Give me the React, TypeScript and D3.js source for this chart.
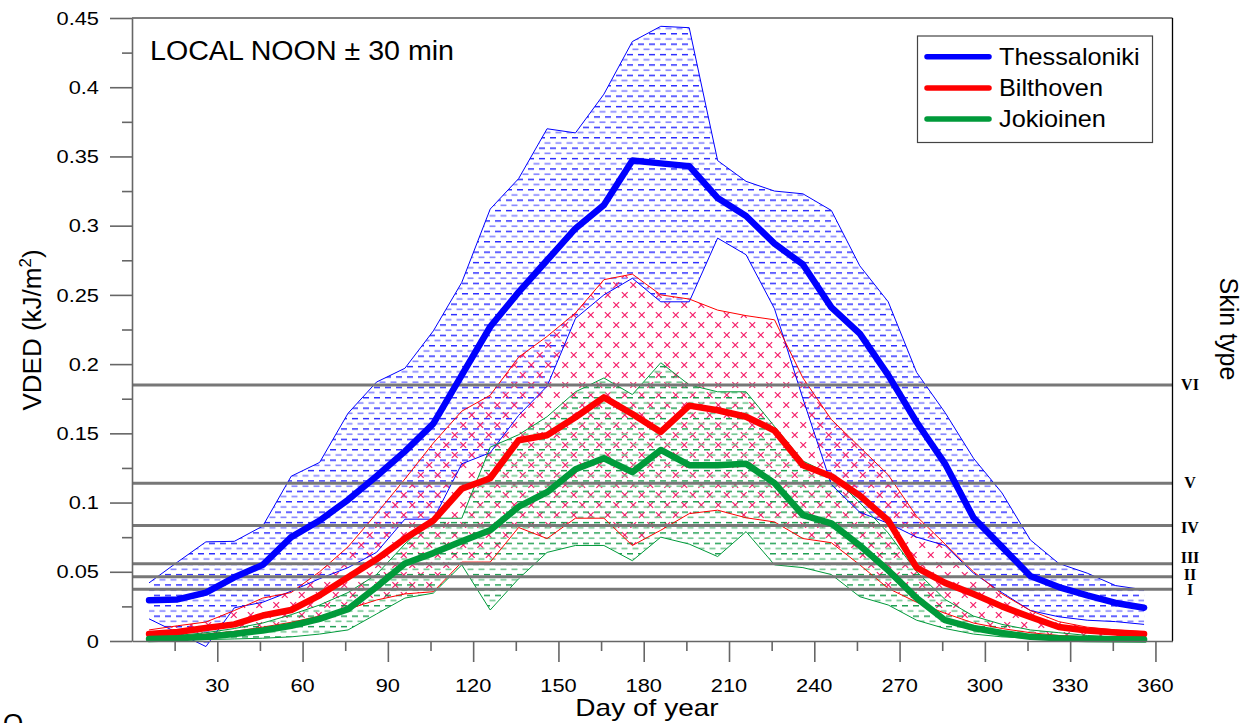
import React, { useEffect, useRef } from 'react';
import * as d3 from 'd3';

// 10-day means, centre day of each period
const days = [6, 16, 26, 36, 46, 56, 66, 76, 86, 96, 106, 116, 126, 136, 146, 156, 166, 176,
    186, 196, 206, 216, 226, 236, 246, 256, 266, 276, 286, 296, 306, 316, 326, 336, 346, 356];

const thessMean = [0.0295, 0.030, 0.035, 0.046, 0.055, 0.075, 0.087, 0.102, 0.119, 0.137, 0.157, 0.192,
    0.227, 0.252, 0.275, 0.298, 0.315, 0.347, 0.345, 0.343, 0.320, 0.307, 0.287, 0.272,
    0.241, 0.222, 0.192, 0.158, 0.128, 0.089, 0.068, 0.047, 0.039, 0.033, 0.0275, 0.024];
const thessHigh = [0.042, 0.057, 0.0716, 0.072, 0.083, 0.119, 0.129, 0.1645, 0.187, 0.197, 0.224, 0.259,
    0.312, 0.334, 0.370, 0.367, 0.395, 0.433, 0.444, 0.443, 0.347, 0.332, 0.325, 0.323,
    0.311, 0.271, 0.245, 0.194, 0.165, 0.132, 0.107, 0.073, 0.056, 0.049, 0.040, 0.037];
const thessLow = [0.016, 0.006, -0.004, 0.024, 0.028, 0.036, 0.045, 0.053, 0.064, 0.088, 0.088, 0.128,
    0.136, 0.163, 0.184, 0.233, 0.250, 0.262, 0.245, 0.245, 0.291, 0.279, 0.240, 0.175,
    0.113, 0.093, 0.085, 0.075, 0.069, 0.049, 0.035, 0.022, 0.0175, 0.015, 0.014, 0.012];

const biltMean = [0.005, 0.0065, 0.0094, 0.012, 0.0184, 0.0224, 0.033, 0.046, 0.059, 0.074, 0.087, 0.110,
    0.1176, 0.145, 0.1486, 0.1616, 0.176, 0.164, 0.151, 0.170, 0.1667, 0.162, 0.152, 0.127,
    0.119, 0.105, 0.087, 0.053, 0.042, 0.034, 0.025, 0.0173, 0.0101, 0.0076, 0.0061, 0.005];
const biltHigh = [0.008, 0.011, 0.0137, 0.022, 0.031, 0.035, 0.050, 0.068, 0.092, 0.117, 0.143, 0.166,
    0.1775, 0.205, 0.220, 0.237, 0.261, 0.265, 0.250, 0.247, 0.239, 0.235, 0.232, 0.190,
    0.160, 0.140, 0.120, 0.090, 0.070, 0.050, 0.034, 0.022, 0.014, 0.010, 0.008, 0.0067];
const biltLow = [0.003, 0.0035, 0.005, 0.007, 0.010, 0.0135, 0.018, 0.023, 0.0296, 0.034, 0.0356, 0.057,
    0.057, 0.082, 0.074, 0.0887, 0.0887, 0.069, 0.080, 0.092, 0.0945, 0.089, 0.086, 0.074,
    0.071, 0.055, 0.038, 0.028, 0.020, 0.013, 0.009, 0.006, 0.004, 0.003, 0.0025, 0.002];

const jokMean = [0.0015, 0.002, 0.003, 0.005, 0.0076, 0.011, 0.016, 0.023, 0.039, 0.056, 0.0635, 0.072,
    0.080, 0.097, 0.1075, 0.124, 0.132, 0.122, 0.138, 0.127, 0.127, 0.128, 0.114, 0.091,
    0.085, 0.069, 0.051, 0.031, 0.015, 0.0094, 0.0058, 0.003, 0.002, 0.0015, 0.0012, 0.001];
const jokHigh = [0.003, 0.004, 0.006, 0.009, 0.013, 0.019, 0.026, 0.035, 0.048, 0.070, 0.0887, 0.0887,
    0.140, 0.149, 0.162, 0.180, 0.190, 0.178, 0.201, 0.185, 0.180, 0.180, 0.155, 0.130,
    0.120, 0.100, 0.078, 0.050, 0.030, 0.018, 0.012, 0.008, 0.006, 0.004, 0.003, 0.003];
const jokLow = [0.0005, 0.0008, 0.001, 0.0015, 0.002, 0.003, 0.005, 0.008, 0.0195, 0.031, 0.0346, 0.055,
    0.0224, 0.045, 0.064, 0.069, 0.069, 0.058, 0.075, 0.070, 0.061, 0.079, 0.055, 0.053,
    0.048, 0.032, 0.026, 0.015, 0.009, 0.005, 0.003, 0.002, 0.001, 0.0008, 0.0005, 0.0005];

const stations = ['Thessaloniki', 'Bilthoven', 'Jokioinen'];
const skinTypes = ['I', 'II', 'III', 'IV', 'V', 'VI'];
const skinDoses = [0.0373, 0.0464, 0.0558, 0.0835, 0.114, 0.185];

const yMajor = [0, 0.05, 0.1, 0.15, 0.2, 0.25, 0.3, 0.35, 0.4, 0.45];
const yMinor = [0.025, 0.075, 0.125, 0.175, 0.225, 0.275, 0.325, 0.375, 0.425];
const xMajor = [30, 60, 90, 120, 150, 180, 210, 240, 270, 300, 330, 360];
const xMinor = [15, 45, 75, 105, 135, 165, 195, 225, 255, 285, 315, 345];

const FONT = 'Arial, "Liberation Sans", sans-serif';

export default function App() {
    const ref = useRef<SVGSVGElement>(null);

    useEffect(() => {
        const svg = d3.select(ref.current);
        svg.selectAll('*').remove();

        const left = 132, right = 1172.5, top = 18, bottom = 641;
        const x = d3.scaleLinear().domain([0, 366]).range([left, right]);
        const y = d3.scaleLinear().domain([0, 0.45]).range([bottom, top]);

        const defs = svg.append('defs');
        const dashPattern = (id: string, dark: string, light: string) => {
            const p = defs.append('pattern').attr('id', id)
                .attr('patternUnits', 'userSpaceOnUse').attr('width', 11).attr('height', 10.4);
            p.append('line').attr('x1', 0).attr('x2', 6).attr('y1', 2.6).attr('y2', 2.6)
                .attr('stroke', dark).attr('stroke-width', 1.3);
            p.append('line').attr('x1', 5.5).attr('x2', 11).attr('y1', 7.8).attr('y2', 7.8)
                .attr('stroke', light).attr('stroke-width', 1.6);
            p.append('line').attr('x1', 0).attr('x2', 0.5).attr('y1', 7.8).attr('y2', 7.8)
                .attr('stroke', light).attr('stroke-width', 1.6);
        };
        dashPattern('blueDash', '#1010ff', '#8282ff');
        dashPattern('greenDash', '#00913a', '#70c68e');

        const cross = defs.append('pattern').attr('id', 'redCross')
            .attr('patternUnits', 'userSpaceOnUse').attr('width', 17).attr('height', 20);
        [[4.25, 5], [12.75, 15]].forEach(([cx, cy]) => {
            const a = 2.9;
            cross.append('path')
                .attr('d', `M${cx - a},${cy - a}L${cx + a},${cy + a}M${cx - a},${cy + a}L${cx + a},${cy - a}`)
                .attr('stroke', '#f5226c').attr('stroke-width', 1.25).attr('fill', 'none');
        });

        const series = [
            { mean: thessMean, high: thessHigh, low: thessLow, color: '#0000ff', fill: 'url(#blueDash)' },
            { mean: biltMean, high: biltHigh, low: biltLow, color: '#ff0000', fill: 'url(#redCross)' },
            { mean: jokMean, high: jokHigh, low: jokLow, color: '#009a3a', fill: 'url(#greenDash)' },
        ];

        const band = (lo: number[], hi: number[]) => d3.area<number>()
            .x((_, i) => x(days[i]))
            .y0((_, i) => y(lo[i]))
            .y1((_, i) => y(hi[i]))(days);
        const line = (vals: number[]) => d3.line<number>()
            .x((_, i) => x(days[i]))
            .y((_, i) => y(vals[i]))(days);

        series.forEach((s) => {
            svg.append('path').attr('d', band(s.low, s.high)).attr('fill', s.fill);
        });
        series.forEach((s) => {
            [s.high, s.low].forEach((v) => {
                svg.append('path').attr('d', line(v)).attr('fill', 'none')
                    .attr('stroke', s.color).attr('stroke-width', 1);
            });
        });

        // skin type thresholds
        skinDoses.forEach((d) => {
            svg.append('line').attr('x1', left).attr('x2', right)
                .attr('y1', y(d)).attr('y2', y(d))
                .attr('stroke', '#777').attr('stroke-width', 3);
        });

        series.forEach((s) => {
            svg.append('path').attr('d', line(s.mean)).attr('fill', 'none')
                .attr('stroke', s.color).attr('stroke-width', 6.5)
                .attr('stroke-linejoin', 'round').attr('stroke-linecap', 'round');
        });

        // frame
        svg.append('line').attr('x1', left).attr('x2', right).attr('y1', top).attr('y2', top)
            .attr('stroke', '#555').attr('stroke-width', 1.3);
        svg.append('line').attr('x1', right).attr('x2', right).attr('y1', top).attr('y2', bottom)
            .attr('stroke', '#000').attr('stroke-width', 1.3);

        // axes
        const gy = svg.append('g').attr('transform', `translate(${left},0)`).attr('color', '#666');
        gy.call(d3.axisLeft(y).tickValues(yMajor).tickSize(22).tickSizeOuter(0).tickFormat(() => ''));
        gy.append('g').call(d3.axisLeft(y).tickValues(yMinor).tickSize(10).tickFormat(() => ''))
            .select('.domain').remove();
        gy.selectAll('line, path').attr('stroke-width', 1.6);

        const gx = svg.append('g').attr('transform', `translate(0,${bottom})`).attr('color', '#666');
        gx.call(d3.axisBottom(x).tickValues(xMajor).tickSize(21).tickSizeOuter(0).tickFormat(() => ''));
        gx.append('g').call(d3.axisBottom(x).tickValues(xMinor).tickSize(10).tickFormat(() => ''))
            .select('.domain').remove();
        gx.selectAll('line, path').attr('stroke-width', 1.6);

        const text = (tx: number, ty: number, s: string, size: number, sx = 1, anchor = 'start') =>
            svg.append('text')
                .attr('transform', `translate(${tx},${ty}) scale(${sx},1)`)
                .attr('font-family', FONT).attr('font-size', size)
                .attr('text-anchor', anchor).attr('fill', '#000')
                .text(s);

        yMajor.forEach((v) => text(99, y(v) + 6.7, String(+v.toFixed(2)), 18.5, 1.18, 'end'));
        xMajor.forEach((d) => text(x(d), 692, String(d), 18.5, 1.18, 'middle'));

        text(150, 60, 'LOCAL NOON \u00b1 30 min', 27, 1.06);
        text(647, 716, 'Day of year', 23, 1.22, 'middle');
        text(3, 732, 'O', 26);

        const yl = svg.append('text')
            .attr('transform', 'translate(41,330) rotate(-90)')
            .attr('font-family', FONT).attr('font-size', 26).attr('text-anchor', 'middle');
        yl.append('tspan').text('VDED (kJ/m');
        yl.append('tspan').attr('font-size', 17).attr('dy', -10).text('2');
        yl.append('tspan').attr('dy', 10).text(')');

        svg.append('text')
            .attr('transform', 'translate(1220,329) rotate(90)')
            .attr('font-family', FONT).attr('font-size', 25).attr('text-anchor', 'middle')
            .text('Skin type');

        const skinLabelY = [589.5, 574, 557.5, 527, 482, 384];
        skinTypes.forEach((s, i) => {
            svg.append('text').attr('x', 1190).attr('y', skinLabelY[i] + 5.5)
                .attr('font-family', '"Times New Roman", "Liberation Serif", serif')
                .attr('font-weight', 'bold').attr('font-size', 16)
                .attr('text-anchor', 'middle').text(s);
        });

        // legend
        const lg = svg.append('g');
        lg.append('rect').attr('x', 917.5).attr('y', 36).attr('width', 235).attr('height', 106.5)
            .attr('fill', '#fff').attr('stroke', '#444').attr('stroke-width', 1.2);
        stations.forEach((name, i) => {
            const ly = 56.7 + i * 31.2;
            lg.append('line').attr('x1', 927).attr('x2', 989).attr('y1', ly).attr('y2', ly)
                .attr('stroke', series[i].color).attr('stroke-width', 5.5).attr('stroke-linecap', 'round');
            lg.append('text')
                .attr('transform', `translate(999,${ly + 8.3}) scale(1.1,1)`)
                .attr('font-family', FONT).attr('font-size', 23).text(name);
        });
    }, []);

    return (
        <svg ref={ref} width={1246} height={723}
            style={{ position: 'absolute', left: 0, top: 0, background: '#fff' }} />
    );
}
